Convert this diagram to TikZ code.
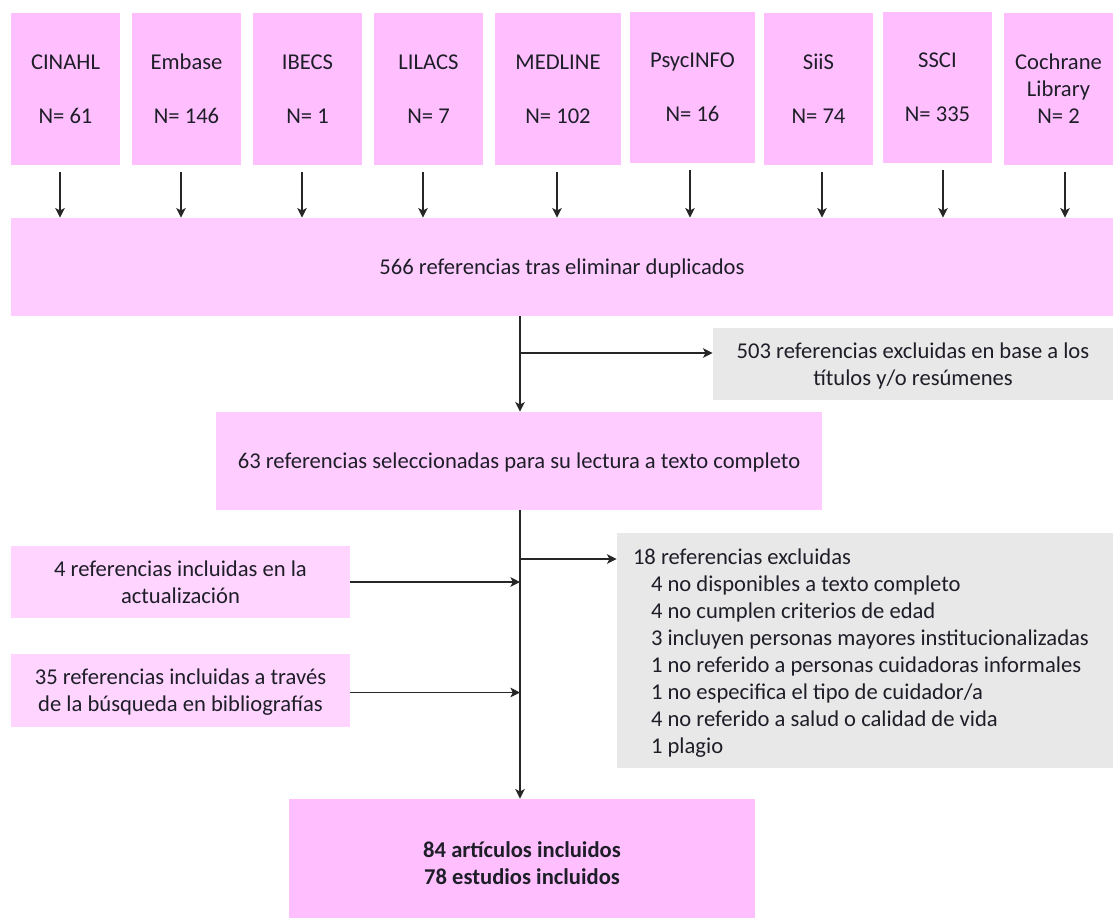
\documentclass[tikz,border=0pt]{standalone}
\usepackage{fontspec}
\setmainfont{Carlito}
\usetikzlibrary{arrows.meta}

\definecolor{dbpink}{RGB}{255,191,255}
\definecolor{midpink}{RGB}{255,204,255}
\definecolor{lightpink}{RGB}{255,212,255}
\definecolor{exclgrey}{RGB}{232,232,232}
\definecolor{inktext}{RGB}{30,30,40}

\tikzset{
  box/.style={rectangle, inner sep=0pt, align=center, text=inktext,
    font=\fontsize{11.3}{13.5}\selectfont},
  dbbox/.style={box, fill=dbpink},
  stagebox/.style={box, fill=midpink},
  addbox/.style={box, fill=lightpink},
  exclbox/.style={box, fill=exclgrey},
  arr/.style={-{Stealth[length=4.8pt,width=4.8pt,inset=1.2pt]}, line width=0.6pt, black!85},
}

\begin{document}
\begin{tikzpicture}[x=0.5pt,y=-0.5pt]
    \useasboundingbox (0,0) rectangle (1115,918);

    % databases
    \foreach \i/\cx/\cy/\w/\h/\dbname in {
        1/65.5/89/109/152/{CINAHL\\[13.5pt]N= 61},
        2/186.5/89/109/152/{Embase\\[13.5pt]N= 146},
        3/307.5/89/109/152/{IBECS\\[13.5pt]N= 1},
        4/428.5/89/109/152/{LILACS\\[13.5pt]N= 7},
        5/558/89/126/152/{MEDLINE\\[13.5pt]N= 102},
        6/692.5/87.5/125/151/{PsycINFO\\[13.5pt]N= 16},
        7/818.5/89/109/152/{SiiS\\[13.5pt]N= 74},
        8/937.5/87.5/109/151/{SSCI\\[13.5pt]N= 335},
        9/1058.5/89/109/152/{Cochrane\\Library\\N= 2}}
    {
        \node[dbbox, minimum width=\w*0.5pt, minimum height=\h*0.5pt] (db\i) at (\cx,\cy) {\dbname};
    }

    \node[stagebox, text depth=0pt, minimum width=551pt, minimum height=49pt] (dups) at (562,267)
        {566 referencias tras eliminar duplicados};
    \node[exclbox, text depth=0pt, minimum width=200pt, minimum height=36pt] (excl1) at (913,364)
        {503 referencias excluidas en base a los\\t\'{\i}tulos y/o res\'{u}menes};
    \node[stagebox, text depth=0pt, minimum width=303pt, minimum height=49pt] (sel) at (519,461)
        {63 referencias seleccionadas para su lectura a texto completo};
    \node[exclbox, minimum width=248pt, minimum height=117.5pt, text width=232pt, align=flush left] (excl2) at (865,650.5)
        {\rule{0pt}{10.5pt}18 referencias excluidas\\
         \hspace*{9pt}4 no disponibles a texto completo\\
         \hspace*{9pt}4 no cumplen criterios de edad\\
         \hspace*{9pt}3 incluyen personas mayores institucionalizadas\\
         \hspace*{9pt}1 no referido a personas cuidadoras informales\\
         \hspace*{9pt}1 no especifica el tipo de cuidador/a\\
         \hspace*{9pt}4 no referido a salud o calidad de vida\\
         \hspace*{9pt}1 plagio};
    \node[addbox, minimum width=169.5pt, minimum height=36pt] (inc1) at (180.5,582)
        {4 referencias incluidas en la\\actualizaci\'{o}n};
    \node[addbox, text depth=0pt, minimum width=169.5pt, minimum height=36.5pt] (inc2) at (180.5,690.5)
        {35 referencias incluidas a trav\'{e}s\\de la b\'{u}squeda en bibliograf\'{\i}as};
    \node[dbbox, minimum width=233pt, minimum height=59.5pt, font=\fontsize{11.3}{13.5}\selectfont\bfseries] (final) at (522,858.5)
        {\rule{0pt}{12.5pt}84 art\'{\i}culos incluidos\\78 estudios incluidos};

    % arrows
    \foreach \i/\dx in {1/-2.75, 2/-2.75, 3/-2.75, 4/-2.75, 5/-0.5, 6/-1.25, 7/1.75, 8/2.75, 9/3.25}
    \draw[arr, shorten <=3.5pt] ([xshift=\dx pt]db\i.south) -- ([xshift=\dx pt]db\i.south |- dups.north);

    \coordinate (split1) at (520,353);
    \coordinate (split2) at (520,559);
    \draw[arr] (split1 |- dups.south) -- (split1 |- sel.north);
    \draw[arr] (split1) -- (split1 -| excl1.west);
    \draw[arr] (split2 |- sel.south) -- (split2 |- final.north);
    \draw[arr] (split2) -- (split2 -| excl2.west);
    \draw[arr] (inc1.east) -- (inc1.east -| split2);
    \draw[arr] ([yshift=-1pt]inc2.east) -- ([yshift=-1pt]inc2.east -| split2);
\end{tikzpicture}
\end{document}
